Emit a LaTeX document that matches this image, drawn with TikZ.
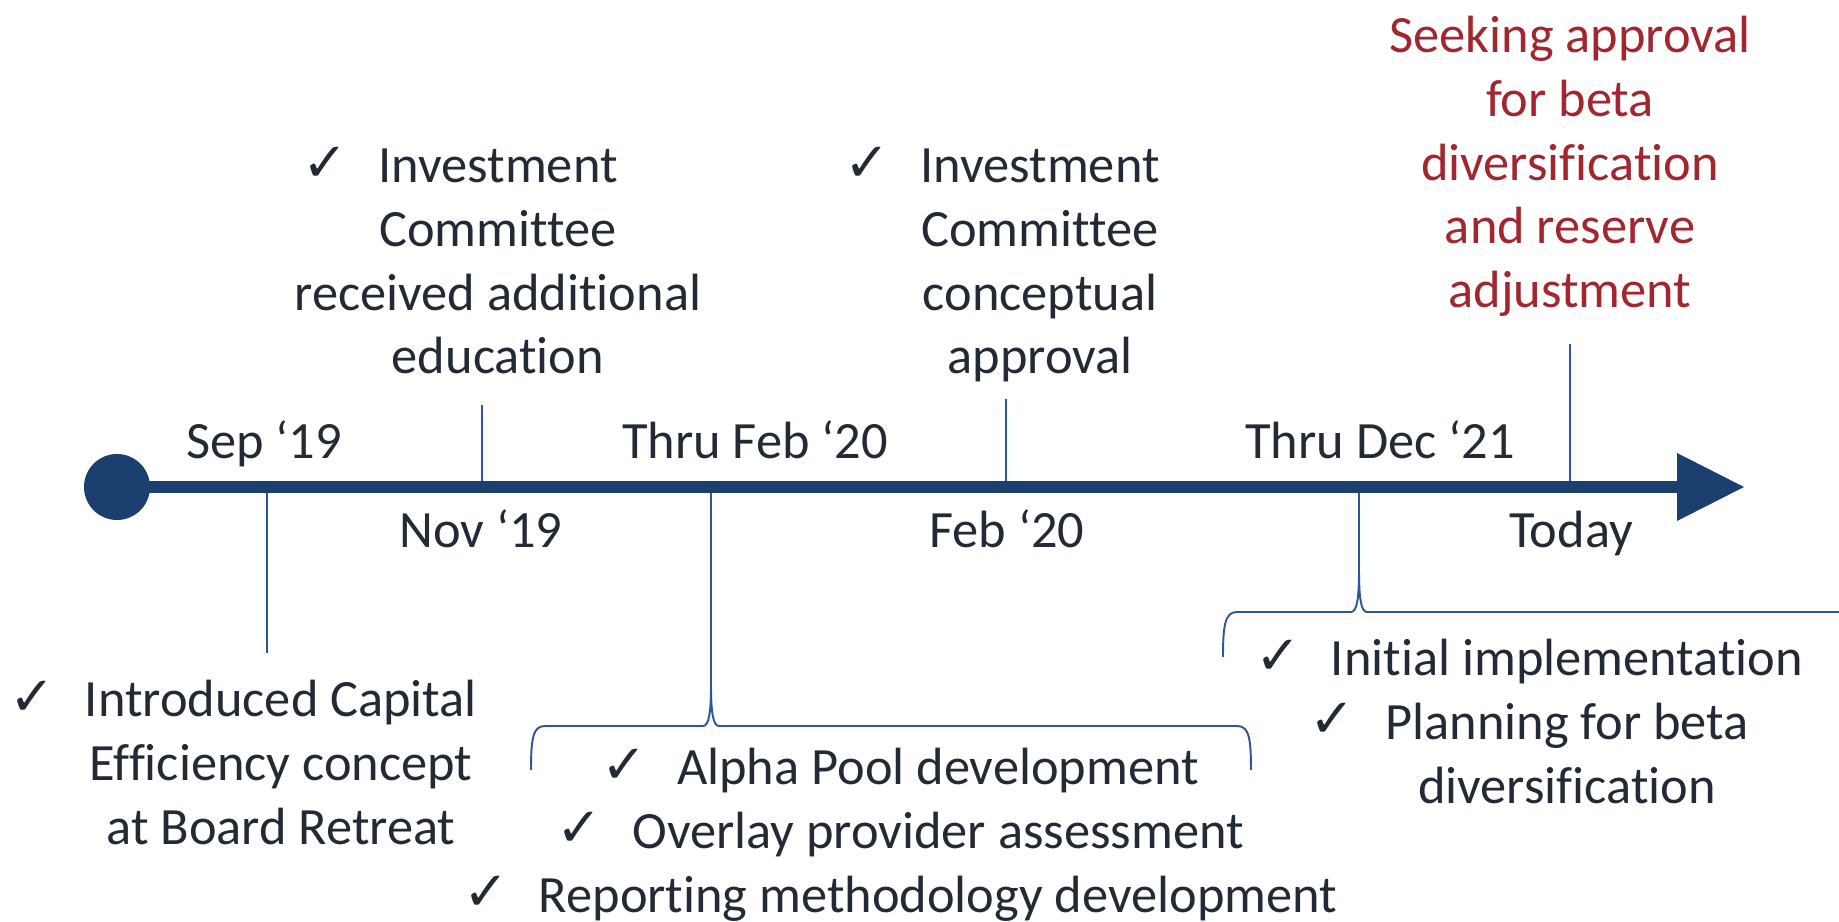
\documentclass[tikz,border=0pt]{standalone}
\usepackage{fontspec}
\setmainfont{Carlito}[Ligatures=NoCommon]
\newfontfamily\symfont{DejaVu Sans}

\definecolor{axisblue}{HTML}{1B4070}
\definecolor{tickblue}{HTML}{2E5690}
\definecolor{inkdark}{HTML}{222A35}
\definecolor{inkred}{HTML}{A1262F}

% check bullet that hangs left of a centred first line
\newcommand{\chk}{\llap{\raisebox{0.5pt}{\symfont\bfseries\fontsize{15.5}{15.5}\selectfont ✓}\hspace{8.5pt}}}
% centred multi-line block whose baseline is the first line
\newcommand{\stack}[1]{\begin{tabular}[t]{@{}c@{}}#1\end{tabular}}

\begin{document}
\begin{tikzpicture}[x=0.01cm,y=-0.01cm,
  txt/.style={inner sep=0pt, anchor=base, text=inkdark,
    font=\fontsize{14.9}{18.1}\selectfont},
  redtxt/.style={txt, text=inkred},
  tick/.style={draw=tickblue, line width=0.5pt},
  brace/.style={draw=tickblue, line width=0.55pt},
  axisline/.style={draw=axisblue, line width=3.5pt}]

\useasboundingbox (0,0) rectangle (1839,922);

% points on the axis
\coordinate (start) at (117,487);
\coordinate (head)  at (1680,487);
\coordinate (tSep)  at (267,487);
\coordinate (tNov)  at (482,487);
\coordinate (tThF)  at (711,487);
\coordinate (tFeb)  at (1006,487);
\coordinate (tThD)  at (1359,487);
\coordinate (tTod)  at (1570,487);

% free ends of the ticks
\coordinate (eSep) at (267,653);
\coordinate (eNov) at (482,405);
\coordinate (eThF) at (711,685);
\coordinate (eFeb) at (1006,399);
\coordinate (eThD) at (1359,570);
\coordinate (eTod) at (1570,344);

% ticks
\draw[tick] (tSep) -- (eSep);
\draw[tick] (tNov) -- (eNov);
\draw[tick] (tThF) -- (eThF);
\draw[tick] (tFeb) -- (eFeb);
\draw[tick] (tThD) -- (eThD);
\draw[tick] (tTod) -- (eTod);

% brace under "Thru Feb '20"
\draw[brace] (531,770) .. controls (531,738) and (533,726) .. (545,726)
  -- (703,726) .. controls (709,726) and (711,712) .. (eThF)
  .. controls (711,712) and (713,726) .. (719,726)
  -- (1237,726) .. controls (1249,726) and (1251,738) .. (1251,770);

% brace under "Thru Dec '21"
\draw[brace] (1223,657) .. controls (1223,625) and (1225,612) .. (1237,612)
  -- (1351,612) .. controls (1357,612) and (1359,598) .. (eThD)
  .. controls (1359,598) and (1361,612) .. (1367,612) -- (1839,612);

% axis with start dot and arrow head
\draw[axisline] (start) -- (head);
\fill[axisblue] (start) circle[radius=33];
\fill[axisblue] (1677,453) -- (1744,487) -- (1677,521) -- cycle;

% date labels
\node[txt] (lblSep) at (264,459)  {Sep ‘19};
\node[txt] (lblNov) at (481,548)  {Nov ‘19};
\node[txt] (lblThF) at (755,459)  {Thru Feb ‘20};
\node[txt] (lblFeb) at (1007,548) {Feb ‘20};
\node[txt] (lblThD) at (1380,459) {Thru Dec ‘21};
\node[txt] (lblTod) at (1571,548) {Today};

% milestones above the axis
\node[txt] (mNov) at (498,183) {\stack{\chk Investment\\Committee\\received additional\\education}};
\node[txt] (mFeb) at (1040,183) {\stack{\chk Investment\\Committee\\conceptual\\approval}};
\node[redtxt] (mTod) at (1570,53) {\stack{Seeking approval\\for beta\\diversification\\and reserve\\adjustment}};

% milestones below the axis
\node[txt] (mSep) at (281,717) {\stack{\chk Introduced Capital\\Efficiency concept\\at Board Retreat}};
\node[txt] (mThF) at (938,785) {\stack{\chk Alpha Pool development\\\chk Overlay provider assessment\\\chk Reporting methodology development}};
\node[txt] (mThD) at (1567,676) {\stack{\chk Initial implementation\\\chk Planning for beta\\diversification}};

\end{tikzpicture}
\end{document}
